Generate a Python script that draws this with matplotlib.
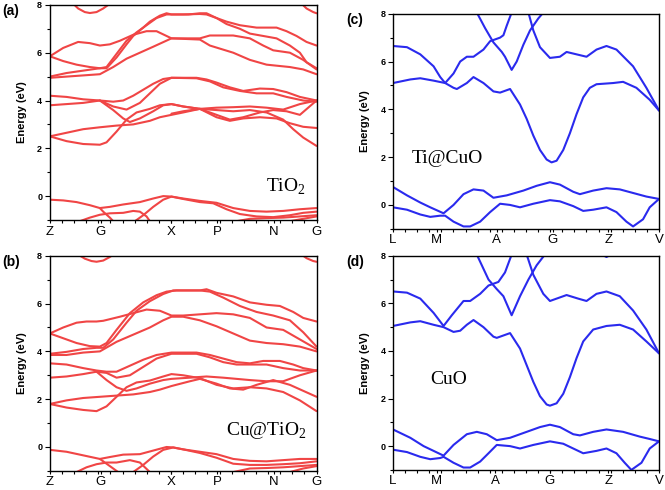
import matplotlib
matplotlib.use("Agg")
import matplotlib.pyplot as plt
from matplotlib.ticker import MultipleLocator

plt.rcParams['font.family'] = ['Liberation Sans', 'DejaVu Sans']
plt.rcParams['mathtext.fontset'] = 'custom'
plt.rcParams['mathtext.rm'] = 'Liberation Serif'

# ---------------- data ----------------
# k-path positions (percent of path length) and labels
kpts_tio2 = [0, 19.1, 45.6, 62.75, 84, 100]
klab_tio2 = ['Z', 'G', 'X', 'P', 'N', 'G']
kpts_cuo_c = [0, 16.5, 39, 60, 81, 100]
kpts_cuo_d = [0, 16.5, 38.4, 59, 81, 100]
klab_cuo = ['L', 'M', 'A', 'G', 'Z', 'V']

yticks = [0, 2, 4, 6, 8]
ylim = (-1, 8)

# Panel (a) TiO2 bands: (k, E)
bands_a = [
    ([8.75, 10.6, 13.1, 15, 17.5, 20, 22.5], [8.05, 7.85, 7.7, 7.66, 7.7, 7.85, 8.05]),
    ([94.4, 96.25, 98.75, 100], [8.05, 7.85, 7.7, 7.65]),
    ([0, 5, 10.6, 15, 18.75, 22.5, 26.25, 31.25, 36.25, 40, 43.75, 45.6, 56.25, 60, 68.75, 75, 81.25, 90, 95, 100],
     [5.85, 6.2, 6.45, 6.4, 6.3, 6.35, 6.5, 6.75, 6.9, 6.9, 6.7, 6.6, 6.55, 6.3, 6.0, 5.7, 5.5, 5.4, 5.3, 5.1]),
    ([0, 5, 10, 15, 18.75, 21.25, 25, 28.75, 31.25, 35, 37.5, 41.25, 43.75, 45.6, 50, 56.25, 58.75, 62.5, 66.25, 71.25, 77.5, 85, 88.75, 92.5, 96.25, 100],
     [5.85, 5.65, 5.5, 5.4, 5.35, 5.35, 5.8, 6.35, 6.7, 7.05, 7.3, 7.55, 7.65, 7.6, 7.6, 7.62, 7.6, 7.45, 7.3, 7.15, 7.05, 7.05, 6.9, 6.7, 6.45, 6.3]),
    ([0, 6.25, 12.5, 18.75, 21.25, 25, 28.75, 32.5, 36.25, 40, 43.75, 45.6, 52, 56.25, 58.75, 62.5, 66.25, 71.25, 75, 80, 85, 90, 93.75, 96.25, 100],
     [5.0, 5.15, 5.25, 5.35, 5.4, 5.95, 6.5, 6.85, 7.15, 7.45, 7.6, 7.6, 7.6, 7.65, 7.65, 7.45, 7.2, 7.0, 6.8, 6.7, 6.6, 6.3, 6.0, 5.6, 5.35]),
    ([0, 6.25, 12.5, 18.75, 23.75, 28.75, 33.75, 38.75, 45.6, 56.25, 60, 68.75, 75, 80, 83.75, 90, 95, 100],
     [4.95, 5.0, 5.05, 5.1, 5.4, 5.75, 6.0, 6.25, 6.6, 6.6, 6.72, 6.72, 6.6, 6.3, 6.1, 6.0, 5.7, 5.3]),
    ([0, 6.25, 12.5, 18.75, 23.75, 27.5, 31.25, 35, 38.75, 42.5, 45.6, 55, 58.75, 62.5, 67.5, 72.5, 78.75, 83.75, 88.75, 93.75, 100],
     [4.2, 4.15, 4.05, 4.0, 3.95, 4.0, 4.2, 4.45, 4.7, 4.9, 4.95, 4.95, 4.88, 4.75, 4.55, 4.4, 4.5, 4.48, 4.35, 4.15, 4.0]),
    ([0, 6.25, 12.5, 18.75, 23.75, 28.75, 33.75, 37.5, 41.25, 45.6, 55, 60, 65, 71.25, 77.5, 83.75, 88.75, 95, 100],
     [3.8, 3.85, 3.9, 4.0, 3.75, 3.62, 3.9, 4.3, 4.7, 4.95, 4.93, 4.8, 4.55, 4.4, 4.3, 4.3, 4.15, 4.0, 3.95]),
    ([18.75, 23.75, 27.5, 30, 33.75, 38.75, 42.5, 45.6, 50, 56.25, 62.5, 68.75, 75, 81.25, 87.5, 93.75, 100],
     [4.0, 3.6, 3.25, 3.1, 3.25, 3.55, 3.8, 3.85, 3.75, 3.65, 3.7, 3.72, 3.75, 3.7, 3.62, 3.85, 4.0]),
    ([0, 6.25, 12.5, 18.75, 25, 31.25, 37.5, 41.25, 45.6, 50, 56.25, 62.5, 67.5, 72.5, 78.75, 83.75, 88.75, 93.75, 100],
     [2.5, 2.65, 2.8, 2.88, 2.95, 3.0, 3.15, 3.3, 3.4, 3.5, 3.65, 3.4, 3.2, 3.3, 3.5, 3.6, 3.55, 3.4, 4.0]),
    ([0, 6.25, 12.5, 18.75, 21.25, 25, 28.75, 32.5, 37.5, 41.25, 45.6, 50, 56.25, 62.5, 67.5, 72.5, 78.75, 85, 90, 95, 100],
     [2.5, 2.3, 2.18, 2.15, 2.25, 2.7, 3.2, 3.5, 3.65, 3.8, 3.85, 3.75, 3.65, 3.3, 3.15, 3.25, 3.3, 3.25, 3.05, 2.9, 2.85]),
    ([45.6, 50, 56.25, 62.5, 68.75, 75, 81.25, 87.5, 91.25, 95, 100],
     [3.45, 3.55, 3.65, 3.6, 3.55, 3.6, 3.5, 3.2, 2.8, 2.45, 2.1]),
    ([0, 5, 10, 15, 18.75, 22.5, 27.5, 33.75, 38.75, 42.5, 45.6, 50, 56.25, 62.5, 68.75, 75, 81.25, 87.5, 93.75, 100],
     [-0.15, -0.18, -0.25, -0.38, -0.5, -0.45, -0.35, -0.25, -0.1, 0.0, -0.02, -0.1, -0.2, -0.28, -0.5, -0.62, -0.65, -0.62, -0.55, -0.5]),
    ([11.25, 15, 18.75, 22.5, 27.5, 31.25, 33.75, 36.25, 37.5], [-1.05, -0.9, -0.78, -0.72, -0.7, -0.62, -0.65, -0.85, -1.05]),
    ([18.75, 20, 22.5, 23.75], [-0.5, -0.65, -0.9, -1.05]),
    ([31.9, 35, 38.75, 42.5, 45.6, 50, 56.25, 61.25, 66.25, 71.25, 77.5, 83.75, 90, 95, 100],
     [-1.05, -0.8, -0.45, -0.15, -0.02, -0.12, -0.25, -0.3, -0.55, -0.75, -0.85, -0.88, -0.8, -0.7, -0.65]),
    ([70, 75, 81.25, 87.5, 93.75, 100], [-1.05, -0.95, -0.92, -0.9, -0.85, -0.8]),
    ([90, 95, 100], [-1.05, -0.95, -0.85]),
]

# Panel (b) Cu@TiO2 bands
bands_b = [
    ([10.6, 13.1, 15.6, 17.5, 20, 22.5, 23.75], [8.05, 7.88, 7.78, 7.75, 7.8, 7.95, 8.05]),
    ([94.4, 96.25, 98.75, 100], [8.05, 7.9, 7.78, 7.75]),
    ([0, 5, 10, 13.75, 17.5, 20, 26.25, 31.25, 36.25, 41.25, 45.6, 50, 56.25, 62.5, 68.75, 75, 81.25, 87.5, 93.75, 100],
     [4.75, 5.0, 5.2, 5.25, 5.25, 5.28, 5.45, 5.6, 5.75, 5.7, 5.5, 5.5, 5.55, 5.6, 5.55, 5.4, 5.0, 4.9, 4.5, 4.1]),
    ([0, 5, 10, 15, 18.75, 21.25, 25, 30, 35, 40, 43.75, 47.5, 56.25, 58.75, 62.5, 68.75, 75, 81.25, 86.25, 91.25, 95, 100],
     [4.75, 4.55, 4.35, 4.22, 4.2, 4.35, 4.9, 5.6, 6.05, 6.35, 6.5, 6.55, 6.55, 6.6, 6.45, 6.3, 6.05, 5.95, 5.9, 5.65, 5.4, 5.25]),
    ([0, 6.25, 12.5, 17.5, 20, 23.75, 28.75, 32.5, 37.5, 42.5, 46.25, 56.25, 60, 65, 71.25, 77.5, 83.75, 90, 95, 100],
     [3.9, 3.98, 4.1, 4.15, 4.15, 4.5, 5.2, 5.7, 6.1, 6.4, 6.55, 6.55, 6.5, 6.25, 5.9, 5.65, 5.5, 5.3, 4.8, 4.2]),
    ([0, 6.25, 12.5, 18.75, 25, 31.25, 37.5, 42.5, 45.6, 50, 56.25, 62.5, 68.75, 75, 81.25, 87.5, 93.75, 100],
     [3.85, 3.85, 3.95, 4.0, 4.4, 4.7, 5.0, 5.3, 5.45, 5.45, 5.3, 5.05, 4.75, 4.45, 4.35, 4.3, 4.2, 4.0]),
    ([0, 6.25, 12.5, 17.5, 21.25, 25, 30, 35, 40, 45.6, 55, 60, 65, 70, 75, 80, 86.25, 91.25, 95, 100],
     [3.5, 3.45, 3.3, 3.2, 3.15, 3.15, 3.4, 3.65, 3.85, 3.95, 3.95, 3.85, 3.7, 3.55, 3.5, 3.6, 3.6, 3.45, 3.3, 3.2]),
    ([0, 6.25, 12.5, 17.5, 21.25, 25, 30, 35, 40, 45.6, 55, 60, 65, 70, 75, 81.25, 87.5, 93.75, 100],
     [2.9, 2.95, 3.05, 3.15, 3.1, 2.9, 3.0, 3.35, 3.7, 3.9, 3.9, 3.75, 3.55, 3.45, 3.45, 3.45, 3.3, 3.2, 3.2]),
    ([17.5, 21.25, 25, 28.75, 32.5, 37.5, 42.5, 45.6, 52.5, 58.75, 65, 70, 75, 81.25, 87.5, 93.75, 100],
     [3.15, 2.8, 2.5, 2.35, 2.45, 2.65, 2.8, 2.85, 2.9, 2.95, 2.9, 2.85, 2.8, 2.75, 2.75, 3.0, 3.2]),
    ([0, 6.25, 12.5, 18.75, 25, 31.25, 37.5, 41.25, 45.6, 52.5, 56.25, 62.5, 67.5, 72.5, 77.5, 83.75, 90, 95, 100],
     [1.8, 1.95, 2.05, 2.1, 2.15, 2.2, 2.3, 2.4, 2.55, 2.75, 2.85, 2.65, 2.45, 2.4, 2.6, 2.8, 2.6, 2.35, 2.1]),
    ([0, 6.25, 12.5, 17.5, 21.25, 25, 28.75, 32.5, 37.5, 42.5, 45.6, 50, 56.25, 62.5, 68.75, 75, 81.25, 87.5, 93.75, 100],
     [1.8, 1.65, 1.55, 1.5, 1.7, 2.1, 2.5, 2.7, 2.78, 2.95, 3.05, 3.0, 2.88, 2.6, 2.45, 2.5, 2.45, 2.3, 1.95, 1.5]),
    ([0, 6.25, 12.5, 18.75, 22.5, 27.5, 33.75, 38.75, 43.75, 46.25, 50, 56.25, 62.5, 68.75, 75, 81.25, 87.5, 93.75, 100],
     [-0.12, -0.2, -0.35, -0.5, -0.42, -0.32, -0.3, -0.15, 0.0, -0.02, -0.1, -0.2, -0.3, -0.5, -0.58, -0.6, -0.55, -0.5, -0.5]),
    ([10, 13.75, 17.5, 21.25, 25, 30, 33.75, 37.5], [-1.05, -0.85, -0.72, -0.65, -0.65, -0.55, -0.65, -1.05]),
    ([18.75, 21.25, 23.75, 25.6], [-0.5, -0.7, -0.9, -1.05]),
    ([31.25, 35, 38.75, 42.5, 46.25, 50, 56.25, 62.5, 68.75, 75, 81.25, 87.5, 93.75, 100],
     [-1.05, -0.75, -0.4, -0.12, -0.02, -0.1, -0.25, -0.45, -0.7, -0.75, -0.75, -0.72, -0.68, -0.6]),
    ([68.75, 75, 81.25, 87.5, 93.75, 100], [-1.05, -0.9, -0.88, -0.85, -0.8, -0.75]),
    ([90, 95, 100], [-1.05, -0.9, -0.8]),
]

# Panel (c) Ti@CuO bands
bands_c = [
    ([0, 5.25, 10.25, 15.25, 17.75, 19.6, 22.75, 25.25, 27.75, 30.25, 34, 36.5, 40.25, 41.5, 42.75, 44.6],
     [6.65, 6.6, 6.3, 5.8, 5.35, 5.1, 5.5, 6.0, 6.2, 6.2, 6.5, 6.85, 7.0, 7.1, 7.5, 8.05]),
    ([0, 6.5, 10.25, 15.25, 19.6, 22.75, 24, 27.75, 30.25, 34, 37.75, 40.25, 44, 47.75, 50.25, 52.75, 55.25, 57.75,
      59.6, 61.5, 64, 66.5, 69, 71.5, 74, 76.5, 82.75, 86.5, 91.5, 96.5, 100],
     [5.1, 5.25, 5.3, 5.2, 5.1, 4.9, 4.85, 5.1, 5.35, 5.1, 4.75, 4.7, 4.85, 4.2, 3.6, 2.9, 2.3, 1.9,
      1.78, 1.85, 2.3, 3.0, 3.8, 4.5, 4.9, 5.05, 5.1, 5.15, 4.9, 4.4, 3.95]),
    ([31.5, 34.6, 37.75, 40.9, 42.1, 44.6, 46.5, 49, 51.5, 54.6, 56.5],
     [8.05, 7.4, 6.8, 6.4, 6.2, 5.65, 6.0, 6.7, 7.3, 7.8, 8.05]),
    ([50.9, 52.75, 55.25, 59, 62.75, 65.25, 69, 72.75, 76.5, 80.25, 84, 90.25, 95.25, 100],
     [8.05, 7.3, 6.6, 6.15, 6.2, 6.4, 6.3, 6.2, 6.5, 6.65, 6.5, 5.8, 4.9, 3.95]),
    ([0, 5.25, 10.25, 14, 19, 22.75, 26.5, 30.25, 34, 37.75, 42.75, 49, 54, 59, 62.75, 67.75, 70.25, 75.25, 80.25,
      85.25, 90.25, 95.25, 100],
     [0.75, 0.4, 0.1, -0.1, -0.35, 0.0, 0.45, 0.65, 0.6, 0.3, 0.4, 0.6, 0.8, 0.95, 0.85, 0.55, 0.45, 0.6, 0.7,
      0.65, 0.5, 0.35, 0.25]),
    ([0, 5.25, 10.25, 14, 17.75, 19.6, 22.75, 26.5, 29, 32.75, 36.5, 40.25, 44, 47.75, 52.75, 59, 62.75, 67.75,
      71.5, 75.25, 80.25, 84, 87.75, 90.25, 94, 96.5, 100],
     [-0.1, -0.2, -0.4, -0.5, -0.45, -0.45, -0.7, -0.9, -0.9, -0.7, -0.3, 0.05, 0.0, -0.1, 0.05, 0.2, 0.15, -0.05,
      -0.25, -0.2, -0.1, -0.3, -0.7, -0.9, -0.6, -0.1, 0.25]),
]

# Panel (d) CuO bands
bands_d = [
    ([0, 5.25, 10.25, 15.25, 19, 22.1, 26.5, 29, 32.75, 35.9, 39.6, 42.1, 44.6],
     [6.5, 6.45, 6.2, 5.6, 5.05, 5.5, 6.1, 6.1, 6.4, 6.75, 6.9, 7.3, 8.05]),
    ([0, 6.5, 10.25, 15.25, 19, 22.75, 25.25, 27.75, 30.25, 34, 37.75, 39, 44, 47.75, 50.25, 52.75, 55.25, 57.75,
      59, 61.5, 64, 66.5, 69, 71.5, 75.25, 80.25, 85.25, 90.25, 95.25, 100],
     [5.05, 5.2, 5.25, 5.1, 5.0, 4.8, 4.85, 5.1, 5.3, 5.0, 4.6, 4.55, 4.75, 4.1, 3.4, 2.7, 2.1, 1.75,
      1.7, 1.8, 2.2, 2.9, 3.7, 4.4, 4.9, 5.05, 5.1, 4.9, 4.4, 3.9]),
    ([31.5, 35.9, 39, 41.5, 44.6, 47.75, 50.9, 54, 57.1], [8.05, 7.0, 6.6, 6.3, 5.5, 6.3, 7.0, 7.6, 8.05]),
    ([50.25, 52.75, 56.5, 59, 61.5, 65.25, 69.6, 72.75, 76.5, 80.25, 85.25, 90.25, 95.25, 100],
     [8.05, 7.2, 6.4, 6.1, 6.2, 6.35, 6.2, 6.1, 6.4, 6.5, 6.3, 5.7, 4.9, 3.9]),
    ([78.5, 80.25, 82], [8.05, 7.95, 8.05]),
    ([0, 6.5, 11.5, 15.25, 19, 22.75, 27.75, 31.5, 35.25, 39, 44, 50.25, 55.25, 59, 62.75, 67.75, 70.25, 75.25,
      80.25, 86.5, 92.75, 96.5, 100],
     [0.7, 0.35, 0.0, -0.2, -0.4, 0.05, 0.5, 0.6, 0.5, 0.25, 0.35, 0.6, 0.8, 0.9, 0.8, 0.5, 0.45, 0.6,
      0.7, 0.6, 0.4, 0.3, 0.2]),
    ([0, 5.25, 10.25, 14, 17.75, 19, 22.75, 26.5, 29, 32.75, 35.9, 39, 44, 47.75, 52.75, 59, 64, 67.75, 71.5,
      76.5, 80.25, 84, 87.1, 89.6, 93.4, 96.5, 100],
     [-0.15, -0.25, -0.45, -0.55, -0.5, -0.45, -0.7, -0.9, -0.9, -0.65, -0.3, 0.05, 0.0, -0.1, 0.05, 0.2, 0.1, -0.1,
      -0.3, -0.2, -0.1, -0.3, -0.7, -1.0, -0.7, -0.1, 0.2]),
]

red = '#f04545'
blue = '#2a2aee'

fig = plt.figure(figsize=(6.65, 4.9), dpi=100)

panels = [
    ([0.075, 0.551, 0.401, 0.439], bands_a, red, kpts_tio2, klab_tio2, '(a)', r'TiO$_\mathregular{2}$', (0.81, 0.13)),
    ([0.075, 0.039, 0.401, 0.439], bands_b, red, kpts_tio2, klab_tio2, '(b)', r'Cu@TiO$_\mathregular{2}$', (0.66, 0.166)),
    ([0.591, 0.533, 0.400, 0.439], bands_c, blue, kpts_cuo_c, klab_cuo, '(c)', 'Ti@CuO', (0.071, 0.306)),
    ([0.591, 0.041, 0.400, 0.437], bands_d, blue, kpts_cuo_d, klab_cuo, '(d)', 'CuO', (0.14, 0.40)),
]

for rect, bands, col, kp, kl, letter, mat, tpos in panels:
    ax = fig.add_axes(rect)
    for k, e in bands:
        ax.plot(k, e, color=col, lw=1.5, solid_joinstyle='round', solid_capstyle='round')
    ax.set_xlim(0, 100)
    ax.set_ylim(*ylim)
    ax.set_yticks(yticks)
    ax.yaxis.set_minor_locator(MultipleLocator(1))
    ax.set_xticks(kp)
    ax.set_xticklabels(kl, fontsize=9.5)
    ax.xaxis.set_minor_locator(MultipleLocator(100 / 22))
    ax.tick_params(axis='x', which='both', direction='out', length=2.5, width=0.8, pad=1.5)
    ax.tick_params(axis='y', which='major', direction='out', length=3.5, width=0.8, pad=2, labelsize=6.5)
    ax.tick_params(axis='y', which='minor', direction='out', length=2, width=0.8)
    for lab in ax.get_yticklabels():
        lab.set_fontweight('bold')
    for sp in ax.spines.values():
        sp.set_linewidth(1.0)
        sp.set_color('black')
    ax.set_ylabel('Energy (eV)', fontsize=8, fontweight='bold')
    ax.yaxis.set_label_coords(-0.085, 0.5)
    ax.text(tpos[0], tpos[1], mat, transform=ax.transAxes, fontsize=14,
            family='Liberation Serif', ha='left', va='baseline')
    fig.text(rect[0] - 0.072 if letter in ('(a)', '(b)') else rect[0] - 0.07,
             rect[1] + rect[3] - 0.012, letter, fontsize=10, fontweight='bold', ha='left', va='center')

fig.savefig('out.png', dpi=100)
